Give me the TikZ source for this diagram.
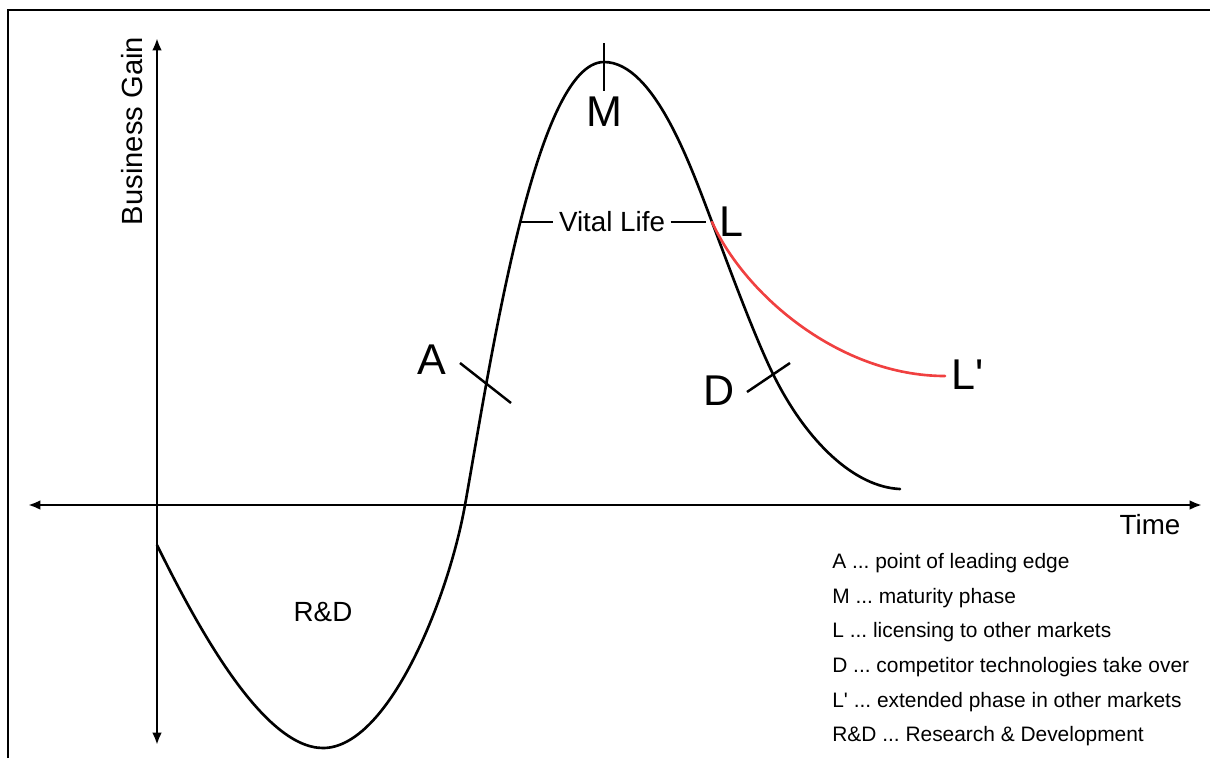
\documentclass[tikz,border=0pt]{standalone}
\usepackage{fontspec}
\setmainfont{Liberation Sans}
\usetikzlibrary{arrows.meta}
\definecolor{licred}{RGB}{240,64,64}
\frenchspacing
\tikzset{
  curveline/.style={line width=1.5pt, line cap=round},
  axisline/.style={line width=1.6pt, {Latex[length=7pt,width=5.5pt]}-{Latex[length=7pt,width=5.5pt]}},
  tickline/.style={line width=1.4pt},
  bigletter/.style={font=\fontsize{24.5}{28}\selectfont, inner sep=0pt},
  axislabel/.style={font=\fontsize{15.8}{18}\selectfont, inner sep=0pt},
  legendtext/.style={font=\fontsize{11.9}{15}\selectfont, inner sep=0pt, anchor=base west},
}
\begin{document}
\begin{tikzpicture}[x=0.02cm, y=-0.02cm]
    \useasboundingbox (0,0) rectangle (1210,758);
    % frame
    \draw[line width=1.1pt] (8,758) -- (8,10) -- (1210,10);

    % axes
    \coordinate (gainlow) at (157,745);
    \coordinate (gainhigh) at (157,38);
    \coordinate (timeleft) at (28,505);
    \coordinate (timeright) at (1202,505);
    \draw[axisline] (gainlow) -- (gainhigh);
    \draw[axisline] (timeleft) -- (timeright);
    \node[axislabel, font=\fontsize{16.6}{19}\selectfont, rotate=90] (gain) at (132,131) {Business Gain};
    \node[axislabel] (time) at (1150,525) {Time};

    % points on the life curve
    \coordinate (start) at (157,545);
    \coordinate (bottom) at (323,748);
    \coordinate (cross) at (465,505);
    \coordinate (peak) at (604,62);
    \coordinate (lic) at (712,222);
    \coordinate (comp) at (775,378);
    \coordinate (fade) at (900,489);
    \coordinate (ext) at (945,376);

    % life curve
    \draw[curveline] (start) .. controls (195,622) and (262,748) .. (bottom)
        .. controls (388,748) and (448,600) .. (cross)
        .. controls (490,365) and (535,62) .. (peak)
        .. controls (655,62) and (692,170) .. (lic)
        .. controls (730,270) and (757,343) .. (comp)
        .. controls (808,443) and (855,487) .. (fade);

    % licensing branch
    \draw[curveline, licred] (lic) .. controls (745,295) and (840,376) .. (ext);

    % marks
    \draw[tickline] (460,363) -- (511,403);
    \draw[tickline] (604,43) -- (604,91);
    \draw[tickline] (747,392) -- (790,363);

    % letters
    \node[bigletter] (A) at (432,360) {A};
    \node[bigletter] (M) at (604,112) {M};
    \node[bigletter] (L) at (731,222) {L};
    \node[bigletter] (D) at (719,391) {D};
    \node[bigletter] (Lp) at (968,375) {L\textquotesingle};
    \node[axislabel] (rd) at (323,612) {R\&D};

    % vital life
    \node[axislabel, inner xsep=3pt] (vital) at (612,222) {Vital Life};
    \coordinate (vl) at (519,222);
    \coordinate (vr) at (706,222);
    \draw[tickline] (vl) -- (vital.west);
    \draw[tickline] (vital.east) -- (vr);

    % legend
    \node[legendtext] (lega) at (832,568) {A ... point of leading edge};
    \node[legendtext] (legm) at (832,603) {M ... maturity phase};
    \node[legendtext] (legl) at (832,637) {L ... licensing to other markets};
    \node[legendtext] (legd) at (832,672) {D ... competitor technologies take over};
    \node[legendtext] (leglp) at (832,707) {L\textquotesingle{} ... extended phase in other markets};
    \node[legendtext] (legrd) at (832,741) {R\&D ... Research \& Development};
\end{tikzpicture}
\end{document}
